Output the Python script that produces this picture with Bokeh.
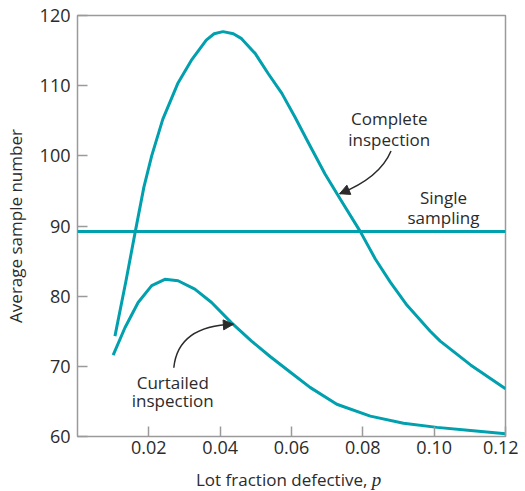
from bokeh.plotting import figure
from bokeh.models import Arrow, NormalHead, FixedTicker, Range1d, Div
from bokeh.layouts import column
from bokeh.embed import file_html
from bokeh.resources import INLINE
from bokeh.core.properties import value

# ---- data ----
p_complete = [0.0105, 0.0136, 0.0162, 0.0186, 0.0208, 0.0239, 0.0281, 0.0319, 0.0361,
              0.0383, 0.0408, 0.0437, 0.0460, 0.0498, 0.0535, 0.0573, 0.0610, 0.0647,
              0.0694, 0.0737, 0.0793, 0.0835, 0.0877, 0.0924, 0.0989, 0.1017, 0.1102,
              0.1200]
asn_complete = [74.3, 82.2, 89.2, 95.5, 100.0, 105.2, 110.3, 113.6, 116.5,
                117.4, 117.7, 117.4, 116.7, 114.6, 111.7, 108.9, 105.5, 101.9,
                97.4, 93.8, 89.2, 85.3, 82.0, 78.7, 75.0, 73.6, 70.2,
                66.8]

p_curtailed = [0.0100, 0.0133, 0.0170, 0.0208, 0.0245, 0.0282, 0.0329, 0.0376, 0.0432,
               0.0488, 0.0540, 0.0596, 0.0652, 0.0727, 0.0821, 0.0914, 0.1008, 0.1102,
               0.1200]
asn_curtailed = [71.6, 75.5, 79.1, 81.5, 82.4, 82.2, 81.0, 79.1, 76.2,
                 73.6, 71.4, 69.2, 67.0, 64.6, 62.9, 61.9, 61.3, 60.85,
                 60.4]

p_single = [0.0, 0.12]
asn_single = [89.2, 89.2]

x_ticks = [0.02, 0.04, 0.06, 0.08, 0.10, 0.12]
x_tick_labels = ["0.02", "0.04", "0.06", "0.08", "0.10", "0.12"]
y_ticks = [60, 70, 80, 90, 100, 110, 120]

# annotation positions (data units)
complete_label = (0.0874, [105.3, 102.3], ["Complete", "inspection"])
single_label = (0.1026, [94.1, 91.2], ["Single", "sampling"])
curtailed_label = (0.0267, [67.7, 65.1], ["Curtailed", "inspection"])
arrow_complete = dict(start=(0.0879, 100.7), ctrl=(0.0848, 96.9), tip=(0.0735, 94.6))
arrow_curtailed = dict(start=(0.0270, 69.8), ctrl=(0.0282, 75.8), tip=(0.0437, 76.0))

FONT = "Open Sans"
TEAL = "#00A0AE"
TXT = "#2b2b2b"
AX = "#9a9a9a"

fig = figure(width=518, height=464, x_range=Range1d(0, 0.12), y_range=Range1d(60, 120),
             output_backend="svg", toolbar_location=None,
             min_border_left=77, min_border_right=13, min_border_top=15, min_border_bottom=28)

fig.outline_line_color = AX
fig.outline_line_width = 1.5
fig.xgrid.visible = False
fig.ygrid.visible = False
fig.background_fill_color = "white"
fig.border_fill_color = "white"

for ax in (fig.xaxis[0], fig.yaxis[0]):
    ax.axis_line_color = None
    ax.major_tick_in = 10
    ax.major_tick_out = 0
    ax.minor_tick_line_color = None
    ax.major_tick_line_color = AX
    ax.major_tick_line_width = 1.5
    ax.major_label_text_font = FONT
    ax.major_label_text_font_size = "18px"
    ax.major_label_text_color = TXT

fig.xaxis[0].ticker = FixedTicker(ticks=x_ticks)
fig.xaxis[0].major_label_overrides = {t: l for t, l in zip(x_ticks, x_tick_labels)}
fig.xaxis[0].major_label_standoff = 4
fig.yaxis[0].ticker = FixedTicker(ticks=y_ticks)
fig.yaxis[0].major_label_standoff = 7
fig.yaxis[0].axis_label = "Average sample number"
fig.yaxis[0].axis_label_text_font = FONT
fig.yaxis[0].axis_label_text_font_size = "17px"
fig.yaxis[0].axis_label_text_font_style = "normal"
fig.yaxis[0].axis_label_text_color = TXT
fig.yaxis[0].axis_label_standoff = 10

# curves
fig.line(p_single, asn_single, line_color=TEAL, line_width=3)
fig.line(p_complete, asn_complete, line_color=TEAL, line_width=3, line_join="round")
fig.line(p_curtailed, asn_curtailed, line_color=TEAL, line_width=3, line_join="round")

# in-plot labels
for (lx, lys, texts) in (complete_label, single_label, curtailed_label):
    fig.text(x=[lx] * len(texts), y=lys, text=texts, text_font=value(FONT),
             text_font_size="17px", text_color=TXT, text_align="center",
             text_baseline="middle")

# curved arrows
for arr in (arrow_complete, arrow_curtailed):
    (x0, y0), (cx, cy), (x1, y1) = arr["start"], arr["ctrl"], arr["tip"]
    fig.quadratic(x0=[x0], y0=[y0], x1=[x1], y1=[y1], cx=[cx], cy=[cy],
                  line_color=TXT, line_width=1.5)
    t = 0.9
    sx = (1 - t) ** 2 * x0 + 2 * (1 - t) * t * cx + t ** 2 * x1
    sy = (1 - t) ** 2 * y0 + 2 * (1 - t) * t * cy + t ** 2 * y1
    fig.add_layout(Arrow(end=NormalHead(size=10, fill_color=TXT, line_color=TXT, line_width=1),
                         x_start=sx, y_start=sy, x_end=x1, y_end=y1,
                         line_alpha=0, line_width=0))

# x axis title (HTML so the variable p can be italic)
x_title = Div(
    text=('<div style="padding-left:196px; position:relative; top:3px; '
          'font-family:\'Open Sans\'; font-size:17px; line-height:25px; '
          'color:#2b2b2b; white-space:nowrap;">'
          'Lot fraction defective, '
          '<i style="font-family:\'Liberation Serif\'; font-size:19px;">p</i></div>'),
    width=518, height=25, margin=(0, 0, 0, 0))

layout = column(fig, x_title, spacing=0)
open("out.html", "w").write(file_html(layout, INLINE))
